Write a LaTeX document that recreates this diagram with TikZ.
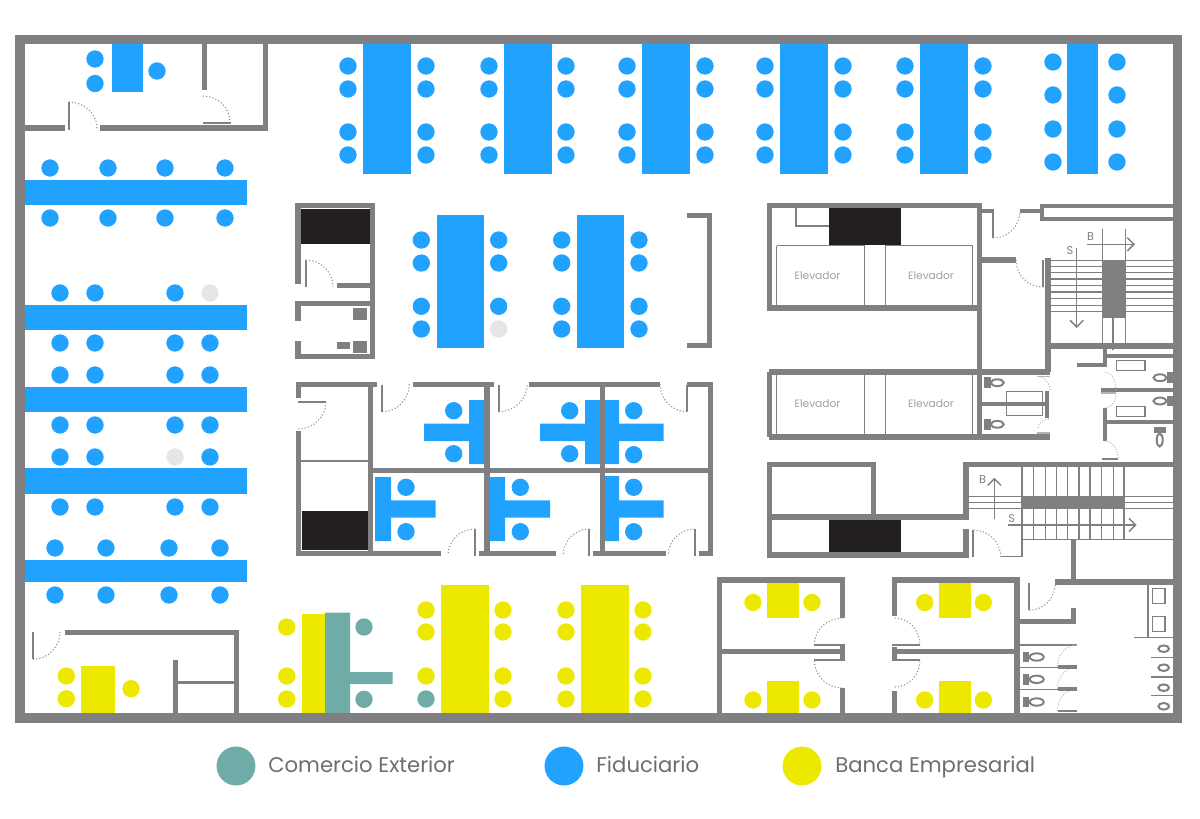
\documentclass[tikz,border=0pt]{standalone}
\usepackage{fontspec}
\setmainfont{Poppins}
\usetikzlibrary{calc,arrows.meta}

\definecolor{wallgrey}{HTML}{808082}
\definecolor{fiduciario}{HTML}{22A2FF}
\definecolor{banca}{HTML}{EDE800}
\definecolor{comex}{HTML}{6FACA7}
\definecolor{core}{HTML}{231F20}
\definecolor{emptyseat}{HTML}{E6E6E6}
\definecolor{labelgrey}{HTML}{6D6E71}

\tikzset{
  outerwall/.style={draw=wallgrey, line width=7.1pt},
  wall/.style={draw=wallgrey, line width=3.9pt},
  midwall/.style={draw=wallgrey, line width=3pt},
  thinwall/.style={draw=wallgrey, line width=1.5pt},
  hair/.style={draw=wallgrey, line width=1pt},
  fine/.style={draw=wallgrey, line width=.8pt},
  swing/.style={draw=wallgrey!85, line width=.8pt, dash pattern=on .9pt off 1.5pt},
  faintswing/.style={draw=wallgrey!50, line width=.8pt, dash pattern=on .9pt off 1.2pt},
  fixture/.style={fill=wallgrey},
  bowl/.style={draw=wallgrey, line width=1.5pt},
  stairarrow/.style={draw=wallgrey, line width=1.1pt, -{Straight Barb[length=5pt,width=10pt]}},
  roomlabel/.style={text=wallgrey!75, font=\fontsize{8pt}{9pt}\selectfont, inner sep=0pt},
  stairlabel/.style={text=wallgrey, font=\fontsize{8.5pt}{10pt}\selectfont, inner sep=0pt},
  legendlabel/.style={text=labelgrey, font=\fontsize{15.9pt}{18pt}\selectfont, inner sep=0pt, anchor=base west},
}

% door leaf arc: start, outer corner, end
\newcommand{\swingarc}[4][swing]{\draw[#1] (#2) .. controls ($(#2)!.55!(#3)$) and ($(#4)!.55!(#3)$) .. (#4);}
\newcommand{\seatrow}[3]{\foreach \sx in {#2} \foreach \sy in {#3} \fill[#1] (\sx,\sy) circle (6.5pt);}

\begin{document}
\begin{tikzpicture}[x=.75pt,y=-.75pt]
  \useasboundingbox (0,0) rectangle (1200,818);

  %% tables along the top
  \foreach \tx/\lx/\rx in {363/348/426,504/489/566,642/627/705,780/765/843,920/905/983} {
    \fill[fiduciario] (\tx,44) rectangle (\tx+48,174);
    \seatrow{fiduciario}{\lx,\rx}{66,89,132,155}
  }
  \fill[fiduciario] (1067,44) rectangle (1098,174);
  \seatrow{fiduciario}{1053,1117}{62,95,129,162}
  \fill[fiduciario] (112,44) rectangle (143,92);
  \seatrow{fiduciario}{95}{59,83.5}
  \seatrow{fiduciario}{157}{71}

  %% long tables on the left
  \fill[fiduciario] (25,180) rectangle (247,205);
  \seatrow{fiduciario}{50,108,165,225}{168,218}
  \fill[fiduciario] (25,305) rectangle (247,330);
  \seatrow{fiduciario}{60,95,175,210}{343}
  \seatrow{fiduciario}{60,95,175}{293}
  \seatrow{emptyseat}{210}{293}
  \fill[fiduciario] (25,387) rectangle (247,412);
  \seatrow{fiduciario}{60,95,175,210}{375,425}
  \fill[fiduciario] (25,468) rectangle (247,494);
  \seatrow{fiduciario}{60,95,175,210}{507}
  \seatrow{fiduciario}{60,95,210}{457}
  \seatrow{emptyseat}{175}{457}
  \fill[fiduciario] (25,560) rectangle (247,582);
  \seatrow{fiduciario}{55,106,169,220}{548,595}

  %% two central tables
  \fill[fiduciario] (436.7,215) rectangle (484,348);
  \seatrow{fiduciario}{421.3}{240,263,306.3,329}
  \seatrow{fiduciario}{498.7}{240,263,306.3}
  \seatrow{emptyseat}{498.7}{329}
  \fill[fiduciario] (576.7,215) rectangle (624.3,348);
  \seatrow{fiduciario}{561.7,639}{240,263,306.3,329}

  %% offices
  \fill[fiduciario] (469,400) rectangle (485,464) (424,423.7) rectangle (469,441);
  \seatrow{fiduciario}{453.7}{410.7,453.7}
  \fill[fiduciario] (585,400) rectangle (601,464) (540,423.7) rectangle (585,441);
  \seatrow{fiduciario}{569.7}{410.7,453.7}
  \fill[fiduciario] (605,400) rectangle (619,464) (619,423.7) rectangle (663.7,441);
  \seatrow{fiduciario}{633.7}{410.7,454.7}
  \fill[fiduciario] (375,477) rectangle (391,541) (391,500.3) rectangle (435.7,517.7);
  \seatrow{fiduciario}{406}{487.3,531.7}
  \fill[fiduciario] (489.7,477) rectangle (505,541) (505,500.3) rectangle (550,517.7);
  \seatrow{fiduciario}{520.3}{487.3,531.7}
  \fill[fiduciario] (605,476) rectangle (619,541) (619,500.3) rectangle (663.7,517.7);
  \seatrow{fiduciario}{633.7}{487.3,531.7}

  %% bottom row
  \fill[banca] (81.3,666) rectangle (115.3,713);
  \seatrow{banca}{66.3}{676,698.7}
  \seatrow{banca}{131}{688.7}
  \fill[banca] (302,614) rectangle (325,713);
  \fill[comex] (325,612.7) rectangle (350,713) (350,672) rectangle (392.7,684);
  \seatrow{banca}{286.7}{627,676,699}
  \seatrow{comex}{364}{627,699.3}
  \fill[banca] (441,585) rectangle (489,713);
  \seatrow{banca}{426}{610,632,676}
  \seatrow{comex}{426}{699}
  \seatrow{banca}{503}{610,632,676,699}
  \fill[banca] (581,585) rectangle (629,713);
  \seatrow{banca}{566,643}{610,632,676,699}
  \foreach \tx/\lx/\rx in {767.3/753/812,939/924.7/983.3} {
    \fill[banca] (\tx,583.3) rectangle (\tx+31.7,618);
    \fill[banca] (\tx,680.7) rectangle (\tx+31.7,713);
    \seatrow{banca}{\lx,\rx}{602.5,700}
  }

  %% service cores
  \fill[core] (301,208.7) rectangle (369.5,244.3);
  \fill[core] (301.7,511) rectangle (368,550);
  \fill[core] (829,207) rectangle (900.7,245);
  \fill[core] (829,520) rectangle (900.7,552.3);

  %% top left room
  \draw[wall] (25,128) -- (65,128);
  \draw[wall] (100,128) -- (265.3,128) -- (265.3,44);
  \draw[wall] (204.8,44) -- (204.8,90);
  \draw[thinwall] (68.7,101.7) -- (68.7,130);
  \draw[thinwall] (203,122.5) -- (231,122.5);
  \swingarc{68.7,102}{97,102}{97,128}
  \swingarc{203,96}{230,96}{230,122}

  %% block beside the central tables
  \draw[wall] (298,284) -- (298,205.8) -- (372.7,205.8) -- (372.7,356.3) -- (298,356.3) -- (298,341);
  \draw[wall] (298,320.7) -- (298,303.7) -- (372.7,303.7);
  \draw[wall] (336.7,285.7) -- (372.7,285.7);
  \draw[thinwall] (306.3,260) -- (306.3,287.3);
  \swingarc{306,260}{333,260}{333,287}
  \fill[fixture] (353,308.3) rectangle (367.3,319.7);
  \fill[fixture] (336.7,341.7) rectangle (350,349.3);
  \fill[fixture] (353,341.3) rectangle (367.3,353);
  \draw[wall] (686.7,215.3) -- (709.4,215.3) -- (709.4,345.3) -- (686.7,345.3);

  %% offices, walls
  \draw[wall] (298.5,398.3) -- (298.5,384.7) -- (377.3,384.7);
  \draw[wall] (298.5,430.7) -- (298.5,553.4) -- (440.7,553.4);
  \draw[wall] (479.3,553.4) -- (556.3,553.4);
  \draw[wall] (592.7,553.4) -- (665.7,553.4);
  \draw[wall] (698.7,553.4) -- (710.2,553.4) -- (710.2,384.7) -- (686.7,384.7);
  \draw[wall] (413.3,384.7) -- (493.7,384.7);
  \draw[wall] (529,384.7) -- (660,384.7);
  \draw[wall] (370.7,384.7) -- (370.7,553.4);
  \draw[wall] (487,384.7) -- (487,553.4);
  \draw[wall] (602.3,384.7) -- (602.3,553.4);
  \draw[wall] (370.7,470.7) -- (710.2,470.7);
  \draw[thinwall] (301,460.7) -- (368,460.7);
  \draw[thinwall] (298.3,402) -- (326.3,402);
  \draw[thinwall] (382.3,384.7) -- (382.3,411.7);
  \draw[thinwall] (498.7,384.7) -- (498.7,411.7);
  \draw[thinwall] (687,384.7) -- (687,411.7);
  \draw[thinwall] (475,529.3) -- (475,556);
  \draw[thinwall] (589.3,529.3) -- (589.3,556);
  \draw[thinwall] (694.7,529.3) -- (694.7,556);
  \swingarc{326,402}{326,429}{298,429}
  \swingarc{382.3,411.7}{409.3,411.7}{409.3,384}
  \swingarc{498.7,411.7}{527.3,411.7}{527.3,384}
  \swingarc{687,411.7}{660,411.7}{660,384}
  \swingarc{475,529}{448,529}{448,555}
  \swingarc{589.3,529}{563.3,529}{563.3,555}
  \swingarc{694.7,529}{668.3,529}{668.3,555}

  %% elevators
  \draw[wall] (769.2,205.5) rectangle (979.8,308);
  \draw[wall] (769.2,372) -- (769.2,437);
  \draw[wall] (769.2,372) -- (1050,372);
  \draw[wall] (769.2,437) -- (1050,437);
  \draw[wall] (979.8,205.5) -- (979.8,437);
  \draw[hair] (796,207) -- (796,226) -- (829,226);
  \foreach \ey/\eh in {245.5/306,374/435} {
    \draw[hair] (776.7,\ey) -- (776.7,\eh);
    \draw[hair] (776.7,\ey) -- (864.7,\ey) -- (864.7,\eh);
    \draw[hair] (885.3,\eh) -- (885.3,\ey) -- (972.7,\ey) -- (972.7,\eh);
  }
  \node[roomlabel] (elevadorA) at (817.5,275.5) {Elevador};
  \node[roomlabel] (elevadorB) at (931,275.5) {Elevador};
  \node[roomlabel] (elevadorC) at (817.5,403.5) {Elevador};
  \node[roomlabel] (elevadorD) at (931,403.5) {Elevador};

  %% upper stair
  \draw[midwall] (982,210.7) -- (993.3,210.7);
  \draw[thinwall] (993.3,209) -- (993.3,238);
  \swingarc{993.3,238}{1020,238}{1020,211}
  \draw[midwall] (1020,210.7) -- (1041.5,210.7);
  \draw[midwall] (1173,205.5) -- (1041.5,205.5) -- (1041.5,218.7) -- (1173,218.7);
  \draw[wall] (982,260) -- (1016,260);
  \swingarc{1016,260}{1016,287}{1042.7,287}
  \draw[thinwall] (1042.7,260) -- (1042.7,287);
  \draw[wall] (1048,258) -- (1048,372);
  \draw[wall] (1048,346) -- (1173,346);
  \foreach \sy in {260.7,266.7,272.7,279,285.3,292,298.7,305.3,311.7} {
    \draw[fine] (1050,\sy) -- (1173,\sy);
  }
  \fill[fixture] (1102.3,260) rectangle (1125.3,317.7);
  \draw[fine] (1102.3,229) -- (1102.3,349);
  \draw[fine] (1125.3,229) -- (1125.3,349);
  \draw[fine] (1113,318) -- (1113,350);
  \draw[stairarrow] (1076.7,247.7) -- (1076.7,328);
  \draw[stairarrow] (1087.3,244.3) -- (1135,244.3);
  \node[stairlabel] (bajaA) at (1090.7,236.7) {B};
  \node[stairlabel] (subeA) at (1070,251) {S};

  %% toilets by the upper stair
  \draw[midwall] (982,404) -- (1047,404);
  \draw[midwall] (1047.3,390.7) -- (1047.3,417.7);
  \draw[hair] (1006.7,391.7) rectangle (1042.7,415.7);
  \foreach \ty in {382.7,424.3} {
    \fill[fixture] (984,\ty-5.4) rectangle (990.7,\ty+5.4);
    \draw[bowl] (997.3,\ty) ellipse [x radius=6.5, y radius=3.4];
  }
  \draw[hair, draw=wallgrey!60] (1037,376.3) -- (1050,376.3);
  \draw[hair, draw=wallgrey!60] (1037,433) -- (1050,433);
  \swingarc[faintswing]{1037,376.3}{1050,376.3}{1050,390}
  \swingarc[faintswing]{1038,428}{1038,419}{1050,419}
  \draw[midwall] (1105,346) -- (1105,366.7);
  \draw[midwall] (1077.3,365) -- (1105,365);
  \draw[midwall] (1105,356) -- (1173,356);
  \draw[midwall] (1100.7,390) -- (1173,390);
  \draw[midwall] (1105,408.3) -- (1105,441);
  \draw[midwall] (1105,422) -- (1173,422);
  \draw[hair] (1116.7,360.7) rectangle (1145,370.7);
  \draw[hair] (1116.7,406.7) rectangle (1145,416.7);
  \foreach \ty in {377.7,401} {
    \fill[fixture] (1167.3,\ty-5.4) rectangle (1173,\ty+5.4);
    \draw[bowl] (1160,\ty) ellipse [x radius=6.5, y radius=3.4];
  }
  \fill[fixture] (1154.3,427) rectangle (1166,433.3);
  \draw[bowl] (1159.7,440) ellipse [x radius=3, y radius=6.5];
  \draw[hair, draw=wallgrey!60] (1101,393) -- (1116,393);
  \draw[hair] (1101.7,459) -- (1118,459);
  \swingarc[faintswing]{1105,372}{1116,372}{1116,390}
  \swingarc[faintswing]{1105,408}{1116,408}{1116,393}
  \swingarc[faintswing]{1105,441}{1118,441}{1118,458}

  %% lower elevators and stair
  \draw[wall] (966,519) -- (966,464.3) -- (1173,464.3);
  \draw[wall] (769.3,517) -- (968.5,517);
  \draw[wall] (873.7,462.4) -- (873.7,517);
  \draw[wall] (769.3,464.3) -- (876,464.3);
  \draw[wall] (769.3,462.4) -- (769.3,555) -- (966,555) -- (966,529);
  \draw[thinwall] (973.3,530) -- (973.3,557);
  \swingarc{973.3,530}{1000.7,530}{1000.7,556.7}
  \draw[hair] (1000.7,556.7) -- (1022,556.7) -- (1022,467);
  \foreach \sx in {1033.3,1045.7,1056.7,1067.7,1079,1090,1101.3,1113.3,1124} {
    \draw[hair] (\sx,467) -- (\sx,539);
  }
  \fill[fixture] (1022,496.3) rectangle (1124,509);
  \foreach \sy in {496.7,502.7,508.7} {
    \draw[hair] (969,\sy) -- (1022,\sy);
    \draw[hair] (1124,\sy) -- (1173,\sy);
  }
  \draw[hair] (1022,539.3) -- (1173,539.3);
  \draw[stairarrow] (1008,525) -- (1136.7,525);
  \draw[stairarrow] (994.3,519.3) -- (994.3,477.7);
  \node[stairlabel] (bajaB) at (982.7,479.3) {B};
  \node[stairlabel] (subeB) at (1011.7,518.3) {S};

  %% meeting rooms
  \draw[wall] (719.5,713) -- (719.5,580) -- (842.3,580) -- (842.3,617.7);
  \draw[wall] (719.5,651.3) -- (842,651.3);
  \draw[wall] (842.3,644.3) -- (842.3,660.7);
  \draw[wall] (842.3,688.3) -- (842.3,713);
  \draw[wall] (894.7,615.7) -- (894.7,580) -- (1017,580) -- (1017,713);
  \draw[wall] (894.7,651.3) -- (1017,651.3);
  \draw[wall] (894.7,647.3) -- (894.7,658.7);
  \draw[wall] (894.7,691) -- (894.7,713);
  \draw[thinwall] (814.3,645) -- (842,645);
  \draw[thinwall] (814.3,660.3) -- (842,660.3);
  \draw[thinwall] (892,645) -- (920,645);
  \draw[thinwall] (892,660.3) -- (920,660.3);
  \swingarc{842,618}{814.3,618}{814.3,645}
  \swingarc{842,688}{814.3,688}{814.3,660.3}
  \swingarc{894.7,618}{920,618}{920,645}
  \swingarc{894.7,687}{920,687}{920,660.3}

  %% lower right bathroom
  \draw[wall] (1073.3,539) -- (1073.3,582);
  \draw[wall] (1055.3,582) -- (1173,582);
  \draw[thinwall] (1029.3,582.7) -- (1029.3,610.3);
  \swingarc{1029.3,610.3}{1055.3,610.3}{1055.3,583}
  \draw[wall] (1019,621.7) -- (1073.7,621.7) -- (1073.7,608.3);
  \foreach \by/\ty in {645/657,667.3/679.3,689.3/702} {
    \draw[hair] (1019,\by) -- (1076.7,\by);
    \fill[fixture] (1023.3,\ty-5.3) rectangle (1029.3,\ty+5.3);
    \draw[bowl] (1036.7,\ty) ellipse [x radius=7, y radius=3.7];
    \swingarc[faintswing]{1057.3,\by+21.7}{1057.3,\by}{1076.7,\by}
  }
  \draw[midwall] (1057.7,667.3) -- (1076.7,667.3);
  \draw[midwall] (1057.7,689.3) -- (1076.7,689.3);
  \draw[hair] (1057.7,711) -- (1076.7,711);
  \draw[hair] (1148,584) -- (1148,637.7);
  \draw[hair] (1134,637.7) -- (1173,637.7);
  \draw[hair] (1152.7,588.3) rectangle (1165,603.3);
  \draw[hair] (1152.7,616.7) rectangle (1165,631.7);
  \foreach \oy in {648.7,667.7,687.7,706.3} {
    \draw[bowl] (1163.7,\oy) ellipse [x radius=5.3, y radius=3.3];
  }
  \foreach \ly in {657.3,677,695.7} {
    \draw[hair] (1151,\ly) -- (1173,\ly);
  }

  %% bottom left room
  \draw[wall] (65,632.7) -- (236.8,632.7) -- (236.8,713);
  \draw[wall] (175.7,660) -- (175.7,713);
  \draw[midwall, line width=2.4pt] (178,682.3) -- (234,682.3);
  \draw[thinwall] (33,632) -- (33,659.3);
  \swingarc{33,659.3}{60,659.3}{60,632}

  %% shell
  \draw[outerwall] (20.2,39.4) rectangle (1177.4,718);

  %% legend
  \fill[comex] (236,766) circle (14.6pt);
  \node[legendlabel] (comexlabel) at (268,772.5) {Comercio Exterior};
  \fill[fiduciario] (564,766) circle (14.6pt);
  \node[legendlabel] (fidulabel) at (596,772.5) {Fiduciario};
  \fill[banca] (802,766) circle (14.6pt);
  \node[legendlabel] (bancalabel) at (835,772.5) {Banca Empresarial};
\end{tikzpicture}
\end{document}
